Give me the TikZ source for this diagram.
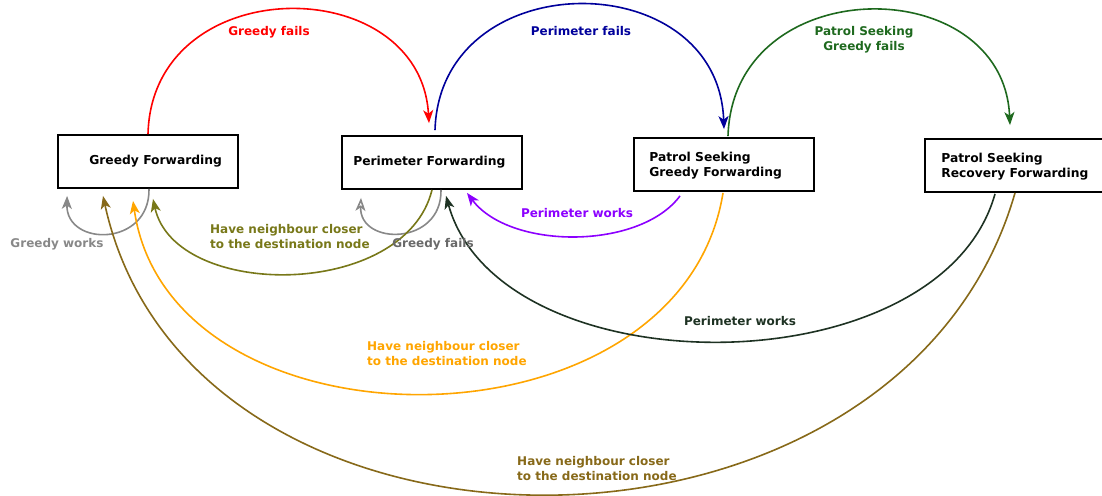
\documentclass[tikz,border=0pt]{standalone}
\usepackage{fontspec}
\setmainfont{DejaVu Sans}
\usetikzlibrary{arrows.meta,positioning}
\definecolor{greedyred}{RGB}{255,0,0}
\definecolor{perinavy}{RGB}{0,0,155}
\definecolor{patrolgreen}{RGB}{30,105,30}
\definecolor{worksgray}{RGB}{136,136,136}
\definecolor{failgray}{RGB}{105,105,105}
\definecolor{closerolive}{RGB}{120,120,25}
\definecolor{periviolet}{RGB}{140,0,255}
\definecolor{closerorange}{RGB}{255,165,0}
\definecolor{periblack}{RGB}{30,50,35}
\definecolor{closerbrown}{RGB}{135,105,25}
\tikzset{
  >={Stealth[length=13pt,width=10pt,inset=3.5pt]},
  state/.style={draw, line width=1.8pt, minimum width=180pt, minimum height=53pt, inner sep=0pt},
  statetext/.style={font=\bfseries\fontsize{12.3}{15.5}\selectfont, align=left, inner sep=0pt},
  lbl/.style={font=\bfseries\fontsize{12}{15}\selectfont, align=left, inner sep=0pt},
  trans/.style={->, line width=1.6pt},
  openarrow/.style={-{Stealth[open,length=13pt,width=10pt,inset=3.5pt]}, line width=1.6pt}
}
\begin{document}
\begin{tikzpicture}[x=1pt, y=-1pt]
  \useasboundingbox (0,0) rectangle (1102,495);

  % states
  \node[state] (gf) at (148,161.5) {};
  \node[state] (pf) at (432,162.5) {};
  \node[state] (psg) at (724,164.5) {};
  \node[state] (psr) at (1015,165.5) {};
  \node[statetext, right=32pt of gf.west] (gftext) {Greedy Forwarding};
  \node[statetext, right=12pt of pf.west] (pftext) {Perimeter Forwarding};
  \node[statetext, right=16pt of psg.west, yshift=-1pt] (psgtext) {Patrol Seeking\\Greedy Forwarding};
  \node[statetext, right=17pt of psr.west, yshift=-1pt] (psrtext) {Patrol Seeking\\Recovery Forwarding};

  % upper arcs
  \draw[trans, greedyred] (gf.north) .. controls (152,-30) and (420,-30) .. ([xshift=-3pt,yshift=12pt]pf.north);
  \draw[trans, perinavy] ([xshift=3pt,yshift=5pt]pf.north) .. controls (440,-37) and (718,-37) .. ([yshift=8pt]psg.north);
  \draw[trans, patrolgreen] ([xshift=4pt,yshift=1pt]psg.north) .. controls (733,-30) and (1003,-30) .. ([xshift=-5pt,yshift=13pt]psr.north);

  % self loops
  \draw[trans, worksgray] ([xshift=1pt]gf.south) .. controls (150,247) and (66,247) .. ([xshift=10pt,yshift=-7pt]gf.south west);
  \draw[openarrow, worksgray] ([xshift=9pt]pf.south) .. controls (442,246) and (359,246) .. ([xshift=-71pt,yshift=-8pt]pf.south);

  % lower arcs
  \draw[trans, closerolive] (pf.south) .. controls (405,300) and (175,300) .. ([xshift=5pt,yshift=-10pt]gf.south);
  \draw[trans, periviolet] ([xshift=-44pt,yshift=-4pt]psg.south) .. controls (640,250) and (510,250) .. ([xshift=35pt,yshift=-3pt]pf.south);
  \draw[trans, closerorange] ([xshift=-1pt,yshift=-1pt]psg.south) .. controls (680,459) and (170,459) .. ([xshift=-15pt,yshift=-12pt]gf.south);
  \draw[trans, periblack] ([xshift=-20pt,yshift=-1pt]psr.south) .. controls (940,390) and (500,390) .. ([xshift=14pt,yshift=-6pt]pf.south);
  \draw[trans, closerbrown] (psr.south) .. controls (900,594) and (190,594) .. ([xshift=-45pt,yshift=-7pt]gf.south);

  % labels
  \node[lbl, greedyred] (lgf) at (269,32) {Greedy fails};
  \node[lbl, perinavy] (lpf) at (581,31) {Perimeter fails};
  \node[lbl, patrolgreen, align=center] (lpsgf) at (864,40) {Patrol Seeking\\Greedy fails};
  \node[lbl, worksgray] (lgw) at (57,244) {Greedy works};
  \node[lbl, failgray] (lgfl) at (433,244) {Greedy fails};
  \node[lbl, closerolive, anchor=west] (lco) at (210,236.5) {Have neighbour closer\\to the destination node};
  \node[lbl, periviolet] (lpw) at (577,213) {Perimeter works};
  \node[lbl, closerorange, anchor=west] (lcor) at (367,353.5) {Have neighbour closer\\to the destination node};
  \node[lbl, periblack] (lpwb) at (740,321) {Perimeter works};
  \node[lbl, closerbrown, anchor=west] (lcb) at (517,468.5) {Have neighbour closer\\to the destination node};
\end{tikzpicture}
\end{document}
